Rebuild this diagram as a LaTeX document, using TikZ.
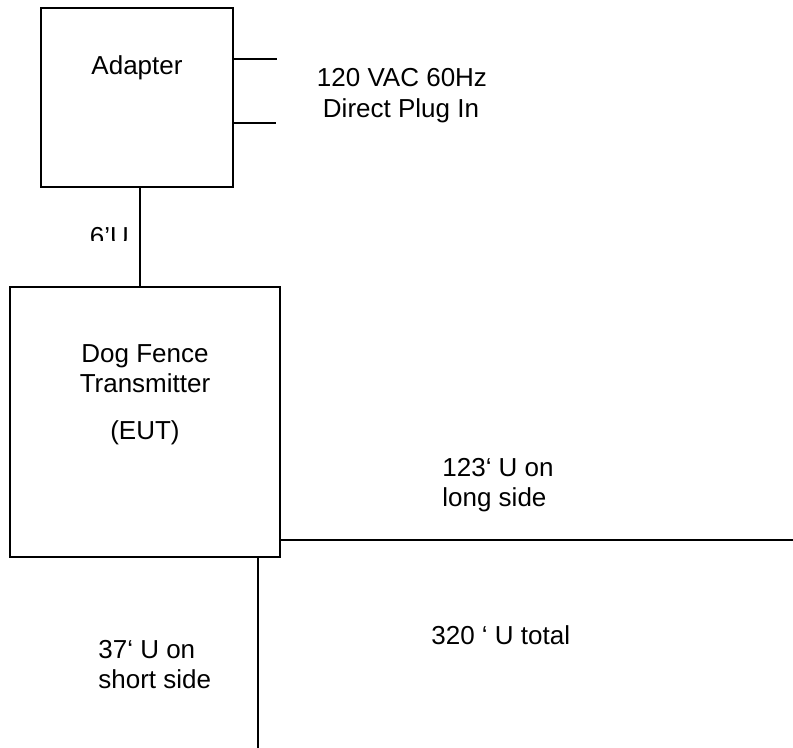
\documentclass[tikz,border=0pt]{standalone}
\usepackage{fontspec}
\setmainfont{Liberation Sans}
\usetikzlibrary{positioning,calc}

\begin{document}
\begin{tikzpicture}[
      x=0.5pt, y=-0.5pt,
      unitbox/.style={draw=black, line width=1pt, minimum width=#1, minimum height=#1, inner sep=0pt},
      wire/.style={draw=black, line width=1pt},
      lbl/.style={font=\fontsize{13}{16}\selectfont, inner sep=0pt, anchor=base west},
      clbl/.style={font=\fontsize{13}{16}\selectfont, inner sep=0pt, anchor=base}
    ]
      \useasboundingbox (0,0) rectangle (793,748);

      % Adapter
      \node[unitbox=0pt, minimum width=96pt, minimum height=89.5pt] (adapter) at (137,97.5) {};
      \node[clbl] (adaptertxt) at (137,75) {Adapter};

      % plug prongs
      \coordinate (prongA) at (277,59);
      \coordinate (prongB) at (276,123);
      \draw[wire] (adapter.east |- prongA) -- (prongA);
      \draw[wire] (adapter.east |- prongB) -- (prongB);
      \node[clbl] (mains1) at (402,87) {120 VAC 60Hz};
      \node[clbl] (mains2) at (401,118) {Direct Plug In};

      % Transmitter
      \node[unitbox=135pt] (eut) at (145,422) {};
      \node[clbl] (euttxt1) at (145,363) {Dog Fence};
      \node[clbl] (euttxt2) at (145,393) {Transmitter};
      \node[clbl] (euttxt3) at (145,440) {(EUT)};

      % adapter lead
      \coordinate (lead) at (140,0);
      \draw[wire] (adapter.south -| lead) -- (eut.north -| lead);
      \begin{scope}
        \clip (60,215) rectangle (135,241);
        \node[clbl] (leadtxt) at (109.5,246) {6'U};
      \end{scope}

      % fence loop, long side
      \coordinate (longend) at (793,540);
      \draw[wire] (eut.east |- longend) -- (longend);
      \node[lbl] (longtxt1) at (442,477) {123‘ U on};
      \node[lbl] (longtxt2) at (442,507) {long side};

      % fence loop, short side
      \coordinate (shortend) at (258,748);
      \draw[wire] (eut.south -| shortend) -- (shortend);
      \node[lbl] (shorttxt1) at (98,658) {37‘ U on};
      \node[lbl] (shorttxt2) at (98,688) {short side};

      \node[lbl] (totaltxt) at (431,645) {320 ‘ U total};
    \end{tikzpicture}
\end{document}
